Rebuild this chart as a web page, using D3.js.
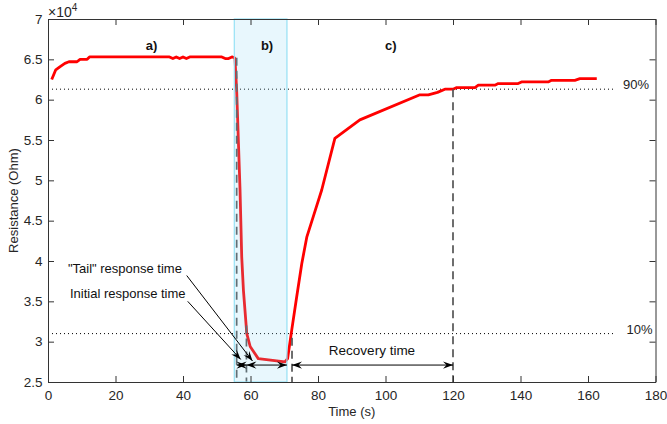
<!DOCTYPE html>
<html>
<head>
<meta charset="utf-8">
<script src="https://cdn.jsdelivr.net/npm/d3@7"></script>
<style>
  html, body { margin: 0; padding: 0; background: #fff; }
  svg { display: block; font-family: "Liberation Sans", Arial, Helvetica, sans-serif; }
</style>
</head>
<body>
<svg id="chart" width="667" height="424"></svg>
<script>
// Sensor resistance transient (values in units of 1e4 Ohm)
const timeS = [1.1, 2.3, 3.6, 5.0, 6.2, 8.6, 9.5, 11.6, 12.3, 36, 37, 38, 39, 40, 41, 42,
  51.5, 52.5, 53.5, 54.5, 55.2, 55.4, 55.9, 56.9, 57.4, 57.9, 58.9, 59.9, 62.3, 70.2, 71.0,
  72.2, 73.7, 75.2, 76.7, 78.6, 81.1, 85.0, 92.4, 110.2, 112.7, 115.4, 117.6, 120.0, 121.1,
  126.5, 127.5, 132.4, 133.4, 139.3, 140.3, 148.2, 149.2, 156.1, 157.6, 162.6];
const resistance = [6.25, 6.37, 6.41, 6.45, 6.47, 6.47, 6.50, 6.50, 6.53, 6.53, 6.51, 6.53, 6.51, 6.53, 6.51, 6.53,
  6.53, 6.51, 6.51, 6.53, 6.52, 6.51, 6.12, 4.88, 4.05, 3.64, 3.10, 2.94, 2.79, 2.75, 2.79,
  3.14, 3.56, 3.97, 4.30, 4.55, 4.88, 5.52, 5.75, 6.06, 6.06, 6.09, 6.13, 6.13, 6.15,
  6.15, 6.18, 6.18, 6.20, 6.20, 6.22, 6.22, 6.24, 6.24, 6.26, 6.26];

const xTicks = [0, 20, 40, 60, 80, 100, 120, 140, 160, 180];
const yTicks = [2.5, 3, 3.5, 4, 4.5, 5, 5.5, 6, 6.5, 7];

// 90% / 10% reference levels
const levelNames = ["90%", "10%"];
const levelValues = [6.13, 3.10];
const levelEnd = 168;

// Exposure window (shaded)
const windowStart = 55.2, windowEnd = 70.8;

// Vertical markers: time and top value
const markerTimes = [55.9, 58.8, 72.3, 120];
const markerTops = [6.52, 3.2, 3.05, 6.13];

// Double-headed time spans
const spanFrom = [55.9, 58.8, 72.3];
const spanTo = [58.8, 70.8, 120];
const spanLevel = 2.71;

const phaseNames = ["a)", "b)", "c)"];
const phaseTimes = [30.7, 64.9, 101.6];
const phaseLevel = 6.62;

const svg = d3.select("#chart");
const plotLeft = 48, plotRight = 655.5, plotTop = 19, plotBottom = 382;

const x = d3.scaleLinear().domain([0, 180]).range([plotLeft, plotRight]);
const y = d3.scaleLinear().domain([2.5, 7]).range([plotBottom, plotTop]);

// arrowhead (concave back) pointing from (x1,y1) toward tip (x2,y2)
function headPath(x1, y1, x2, y2) {
  const L = 10, H = 3.6, N = 6.5;
  const a = Math.atan2(y2 - y1, x2 - x1);
  const c = Math.cos(a), s = Math.sin(a);
  const p = (u, v) => [x2 + u * c - v * s, y2 + u * s + v * c];
  const pts = [p(0, 0), p(-L, H), p(-N, 0), p(-L, -H)];
  return "M" + pts.map(q => q.join(",")).join("L") + "Z";
}
function arrow(g, x1, y1, x2, y2, both) {
  g.append("line").attr("x1", x1).attr("y1", y1).attr("x2", x2).attr("y2", y2)
    .attr("stroke", "#000").attr("stroke-width", 1);
  g.append("path").attr("d", headPath(x1, y1, x2, y2)).attr("fill", "#000");
  if (both) g.append("path").attr("d", headPath(x2, y2, x1, y1)).attr("fill", "#000");
}

// reference levels
levelValues.forEach((v, i) => {
  svg.append("line")
    .attr("x1", x(0)).attr("x2", x(levelEnd))
    .attr("y1", y(v)).attr("y2", y(v))
    .attr("stroke", "#000").attr("stroke-width", 1)
    .attr("stroke-dasharray", "1,3");
});
svg.append("text").attr("x", x(170.4)).attr("y", y(levelValues[0]))
  .attr("font-size", 13).attr("fill", "#222").text(levelNames[0]);
svg.append("text").attr("x", x(171.4)).attr("y", y(levelValues[1]))
  .attr("font-size", 13).attr("fill", "#222").text(levelNames[1]);

// resistance curve
const pts = timeS.map((t, i) => [t, resistance[i]]);
svg.append("path")
  .datum(pts)
  .attr("fill", "none")
  .attr("stroke", "#ff0000")
  .attr("stroke-width", 2.8)
  .attr("stroke-linejoin", "round")
  .attr("d", d3.line().x(d => x(d[0])).y(d => y(d[1])));

// vertical dashed markers
markerTimes.forEach((t, i) => {
  svg.append("line")
    .attr("x1", x(t)).attr("x2", x(t))
    .attr("y1", y(markerTops[i])).attr("y2", y(2.5))
    .attr("stroke", "#555").attr("stroke-width", 1.7)
    .attr("stroke-dasharray", "8,5");
});

// shaded exposure window
svg.append("rect")
  .attr("x", x(windowStart)).attr("y", y(7))
  .attr("width", x(windowEnd) - x(windowStart))
  .attr("height", y(2.5) - y(7))
  .attr("fill", "rgb(140,215,245)").attr("fill-opacity", 0.2)
  .attr("stroke", "rgb(150,225,245)").attr("stroke-width", 1.2);

// time spans
const ga = svg.append("g");
spanFrom.forEach((f, i) => {
  arrow(ga, x(f), y(spanLevel), x(spanTo[i]), y(spanLevel), true);
});
svg.append("text").attr("x", x(96)).attr("y", 355)
  .attr("text-anchor", "middle").attr("font-size", 13.5).attr("fill", "#111")
  .text("Recovery time");

// callouts
svg.append("text").attr("x", x(5.9)).attr("y", y(3.847))
  .attr("font-size", 13).attr("fill", "#111").text("\"Tail\" response time");
svg.append("text").attr("x", x(6.5)).attr("y", y(3.538))
  .attr("font-size", 13).attr("fill", "#111").text("Initial response time");
arrow(ga, x(41.1), y(3.82), x(60.6), y(2.76), false);
arrow(ga, x(41.4), y(3.50), x(57.1), y(2.78), false);

// phase labels
phaseNames.forEach((n, i) => {
  svg.append("text").attr("x", x(phaseTimes[i])).attr("y", y(phaseLevel))
    .attr("text-anchor", "middle").attr("font-size", 13).attr("font-weight", "bold")
    .attr("fill", "#111").text(n);
});

// axes (box with inward ticks)
const axisColor = "#333";
function styleAxis(g, showLabels) {
  g.selectAll("path").attr("stroke", axisColor).attr("stroke-width", 1);
  g.selectAll("line").attr("stroke", axisColor).attr("stroke-width", 1);
  g.selectAll("text").attr("fill", "#262626").attr("font-size", 13.5)
    .attr("font-family", "Liberation Sans, Arial, sans-serif");
  if (!showLabels) g.selectAll("text").remove();
}
const fmt = d3.format("~g");
svg.append("g").attr("transform", `translate(0,${plotBottom})`)
  .call(d3.axisBottom(x).tickValues(xTicks).tickFormat(fmt).tickSizeInner(-6).tickSizeOuter(0).tickPadding(8.5))
  .call(g => styleAxis(g, true));
svg.append("g").attr("transform", `translate(0,${plotTop})`)
  .call(d3.axisTop(x).tickValues(xTicks).tickSizeInner(-6).tickSizeOuter(0))
  .call(g => styleAxis(g, false));
svg.append("g").attr("transform", `translate(${plotLeft},0)`)
  .call(d3.axisLeft(y).tickValues(yTicks).tickFormat(fmt).tickSizeInner(-6).tickSizeOuter(0).tickPadding(5.5))
  .call(g => styleAxis(g, true));
svg.append("g").attr("transform", `translate(${plotRight},0)`)
  .call(d3.axisRight(y).tickValues(yTicks).tickSizeInner(-6).tickSizeOuter(0))
  .call(g => styleAxis(g, false));

// exponent note
const ex = svg.append("text").attr("x", 48).attr("y", 17).attr("font-size", 14).attr("fill", "#262626");
ex.append("tspan").text("\u00d710");
ex.append("tspan").attr("font-size", 10).attr("dy", -6).text("4");

// axis titles
svg.append("text").attr("x", x(90)).attr("y", 416)
  .attr("text-anchor", "middle").attr("font-size", 13).attr("fill", "#262626")
  .text("Time (s)");
svg.append("text")
  .attr("transform", `translate(18,${(plotTop + plotBottom) / 2}) rotate(-90)`)
  .attr("text-anchor", "middle").attr("font-size", 13).attr("fill", "#262626")
  .text("Resistance (Ohm)");
</script>
</body>
</html>
